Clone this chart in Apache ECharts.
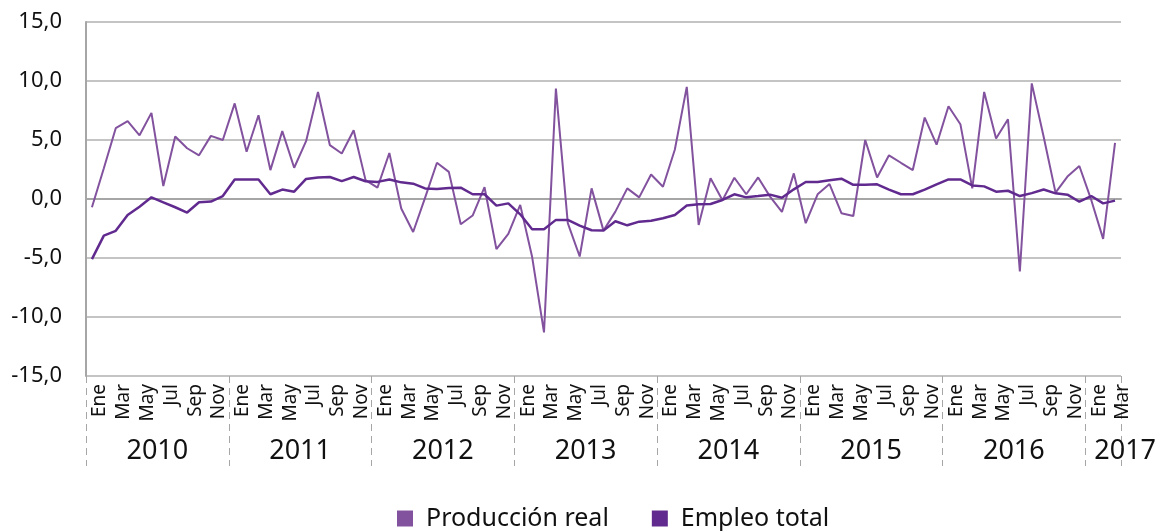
<!DOCTYPE html>
<html>
<head>
<meta charset="utf-8">
<script src="https://cdn.jsdelivr.net/npm/echarts@6/dist/echarts.min.js"></script>
<style>
  html, body { margin: 0; padding: 0; background: #fff; }
  #chart { width: 1159px; height: 531px; }
</style>
</head>
<body>
<div id="chart"></div>
<script>
// meses y años (ene 2010 - mar 2017)
var monthNames = ["Ene", "Feb", "Mar", "Abr", "May", "Jun", "Jul", "Ago", "Sep", "Oct", "Nov", "Dic"];
var years = ["2010", "2011", "2012", "2013", "2014", "2015", "2016", "2017"];
var lastYearMonths = 3;

var produccionReal = [
  -0.7, 2.6, 6.0, 6.6, 5.4, 7.3, 1.1, 5.3, 4.3, 3.7, 5.35, 5.0,
  8.1, 4.0, 7.1, 2.45, 5.75, 2.65, 4.9, 9.07, 4.56, 3.86, 5.83, 1.6,
  0.96, 3.9, -0.8, -2.8, 0.1, 3.07, 2.3, -2.14, -1.4, 1.0, -4.25, -2.96,
  -0.5, -4.9, -11.3, 9.35, -2.05, -4.87, 0.9, -2.68, -1.07, 0.9, 0.14, 2.08,
  1.04, 4.2, 9.5, -2.2, 1.75, -0.1, 1.8, 0.4, 1.83, 0.2, -1.1, 2.17,
  -2.05, 0.4, 1.27, -1.2, -1.44, 5.0, 1.83, 3.7, 3.07, 2.45, 6.9, 4.6,
  7.86, 6.34, 0.9, 9.07, 5.13, 6.76, -6.14, 9.8, 5.27, 0.54, 1.9, 2.8,
  -0.08, -3.38, 4.76
];

var empleoTotal = [
  -5.1, -3.1, -2.7, -1.35, -0.65, 0.14, -0.28, -0.7, -1.15, -0.28, -0.22, 0.25,
  1.66, 1.66, 1.66, 0.4, 0.8, 0.62, 1.7, 1.83, 1.86, 1.52, 1.86, 1.5,
  1.45, 1.66, 1.41, 1.3, 0.9, 0.85, 0.93, 0.96, 0.4, 0.4, -0.56, -0.37,
  -1.3, -2.56, -2.56, -1.77, -1.77, -2.25, -2.65, -2.68, -1.89, -2.23, -1.92, -1.85,
  -1.63, -1.35, -0.56, -0.45, -0.42, -0.08, 0.4, 0.14, 0.25, 0.37, 0.11, 0.82,
  1.44, 1.44, 1.58, 1.72, 1.2, 1.2, 1.24, 0.8, 0.4, 0.4, 0.8, 1.24,
  1.66, 1.66, 1.15, 1.07, 0.62, 0.7, 0.25, 0.5, 0.8, 0.48, 0.37, -0.23,
  0.25, -0.37, -0.14
];

var yTicks = [-15, -10, -5, 0, 5, 10, 15];

// categorias: una por mes
var monthCats = [];
var yearCats = [];
years.forEach(function (y, yi) {
  var n = yi === years.length - 1 ? lastYearMonths : 12;
  for (var m = 0; m < n; m++) {
    monthCats.push(monthNames[m]);
    yearCats.push(y);
  }
});
var total = monthCats.length;

var font = "'Noto Sans', sans-serif";
var chart = echarts.init(document.getElementById("chart"));

chart.setOption({
  animation: false,
  textStyle: { fontFamily: font },
  grid: { left: 86, right: 34, top: 22, bottom: 155, containLabel: false },
  legend: {
    bottom: -5,
    left: 392,
    icon: "rect",
    itemWidth: 16,
    itemHeight: 16,
    itemGap: 43,
    textStyle: { fontSize: 25, color: "#111", fontFamily: font, padding: [0, 0, 0, 8] },
    data: ["Producción real", "Empleo total"]
  },
  xAxis: [
    {
      type: "category",
      data: monthCats,
      boundaryGap: true,
      axisLine: { show: true, lineStyle: { color: "#a6a6a6", width: 2 } },
      axisTick: { show: false },
      axisLabel: {
        rotate: 90,
        fontSize: 19,
        lineHeight: 16,
        verticalAlign: "top",
        color: "#111",
        margin: 8,
        interval: function (idx) { return idx % 2 === 0; }
      },
      splitLine: { show: false }
    },
    {
      type: "category",
      data: yearCats,
      boundaryGap: true,
      position: "bottom",
      axisLine: { show: false },
      axisTick: {
        show: true,
        length: 90,
        interval: function (idx) { return idx % 12 === 0; },
        lineStyle: { color: "#a6a6a6", width: 1, type: [7, 5] }
      },
      axisLabel: {
        margin: 62,
        interval: function (idx) {
          return (idx % 12 === 6 && idx < total - lastYearMonths) || idx === total - 2;
        },
        formatter: function (v, idx) {
          return idx === total - 2 ? "{b|" + v + "}" : "{a|" + v + "}";
        },
        rich: {
          a: { fontSize: 27, color: "#111", padding: [0, 12, 0, 0], fontFamily: font },
          b: { fontSize: 27, color: "#111", padding: [0, 0, 0, 44], fontFamily: font }
        }
      },
      splitLine: { show: false }
    }
  ],
  yAxis: {
    type: "value",
    min: yTicks[0],
    max: yTicks[yTicks.length - 1],
    interval: 5,
    axisLine: { show: true, lineStyle: { color: "#a6a6a6", width: 2 } },
    axisTick: { show: false },
    axisLabel: {
      fontSize: 22,
      color: "#111",
      margin: 24,
      formatter: function (v) { return v.toFixed(1).replace(".", ","); }
    },
    splitLine: { show: true, lineStyle: { color: "#b0b0b0", width: 1.5 } }
  },
  series: [
    {
      name: "Producción real",
      type: "line",
      data: produccionReal,
      showSymbol: false,
      symbol: "none",
      itemStyle: { color: "#82529e" },
      lineStyle: { color: "#82529e", width: 2 }
    },
    {
      name: "Empleo total",
      type: "line",
      data: empleoTotal,
      showSymbol: false,
      symbol: "none",
      itemStyle: { color: "#612a8f" },
      lineStyle: { color: "#612a8f", width: 2.5 }
    }
  ]
});
</script>
</body>
</html>
